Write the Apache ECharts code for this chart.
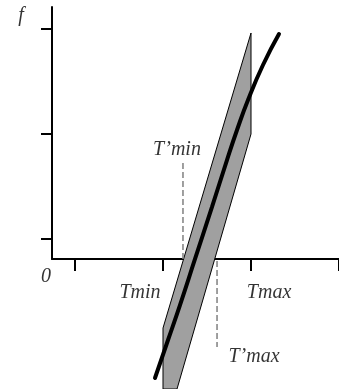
<!DOCTYPE html>
<html>
<head>
<meta charset="utf-8">
<script src="https://cdn.jsdelivr.net/npm/echarts@6/dist/echarts.min.js"></script>
<style>html,body{margin:0;padding:0;background:#fff}#c{width:339px;height:389px}</style>
</head>
<body>
<div id="c"></div>
<script>
// Tick positions (data units)
var xTicks = [0, 1, 2, 3];
var yTicks = [0, 1, 2];
// Band polygon (T, f)
var bandX = [1.0, 1.0, 2.0, 2.0, 1.159];
var bandY = [-1.429, -0.848, 1.962, 1.0, -1.429];
// Black curve
var curveX = [0.909, 1.057, 1.193, 1.364, 1.557, 1.727, 1.841, 1.966, 2.136, 2.318];
var curveY = [-1.324, -0.962, -0.629, -0.190, 0.305, 0.752, 1.038, 1.324, 1.657, 1.952];
// Dashed guides
var tpMinX = [1.227, 1.227];
var tpMinY = [0.724, -0.19];
var tpMaxX = [1.614, 1.614];
var tpMaxY = [-0.21, -1.029];
// Text labels
var labelText = ['f', '0', 'Tmin', 'Tmax', "T\u2019min", "T\u2019max"];
var labelX = [-0.614, -0.330, 0.739, 2.205, 1.159, 2.034];
var labelY = [2.124, -0.362, -0.514, -0.514, 0.848, -1.124];

function zip(a, b) { return a.map(function (v, i) { return [v, b[i]]; }); }

var chart = echarts.init(document.getElementById('c'), null, {renderer: 'canvas'});
var font = {fontFamily: 'Liberation Serif', fontStyle: 'italic', fontSize: 20, color: '#000'};

chart.setOption({
  animation: false,
  backgroundColor: '#fff',
  grid: {left: 52, right: 0, top: 7, bottom: 130, containLabel: false},
  xAxis: {
    type: 'value', min: -0.2614, max: 3.0,
    axisLine: {show: true, onZero: false, lineStyle: {color: '#000', width: 2}},
    axisTick: {show: true, customValues: xTicks, length: 12, lineStyle: {color: '#000', width: 2}},
    axisLabel: {show: false}, splitLine: {show: false}
  },
  yAxis: {
    type: 'value', min: -0.1905, max: 2.2095,
    axisLine: {show: true, onZero: false, lineStyle: {color: '#000', width: 2}},
    axisTick: {show: true, customValues: yTicks, length: 11, lineStyle: {color: '#000', width: 2}},
    axisLabel: {show: false}, splitLine: {show: false}
  },
  series: [
    {
      type: 'custom', clip: false, z: 2,
      data: [0],
      renderItem: function (params, api) {
        var pts = bandX.map(function (x, i) { return api.coord([x, bandY[i]]); });
        return {type: 'polygon', shape: {points: pts},
          style: {fill: '#a0a0a0', stroke: '#000', lineWidth: 1}};
      }
    },
    {
      type: 'line', clip: false, z: 3, data: zip(tpMinX, tpMinY), symbol: 'none',
      lineStyle: {color: '#808080', width: 1.5, type: [6, 3]}
    },
    {
      type: 'line', clip: false, z: 3, data: zip(tpMaxX, tpMaxY), symbol: 'none',
      lineStyle: {color: '#808080', width: 1.5, type: [6, 3]}
    },
    {
      type: 'line', clip: false, z: 4, data: zip(curveX, curveY), symbol: 'none', smooth: true,
      lineStyle: {color: '#000', width: 4, cap: 'round'}
    },
    {
      type: 'scatter', clip: false, z: 5, symbolSize: 0,
      data: labelText.map(function (t, i) { return {name: t, value: [labelX[i], labelY[i]]}; }),
      label: Object.assign({show: true, position: 'inside', formatter: '{b}'}, font)
    }
  ]
});
</script>
</body>
</html>
